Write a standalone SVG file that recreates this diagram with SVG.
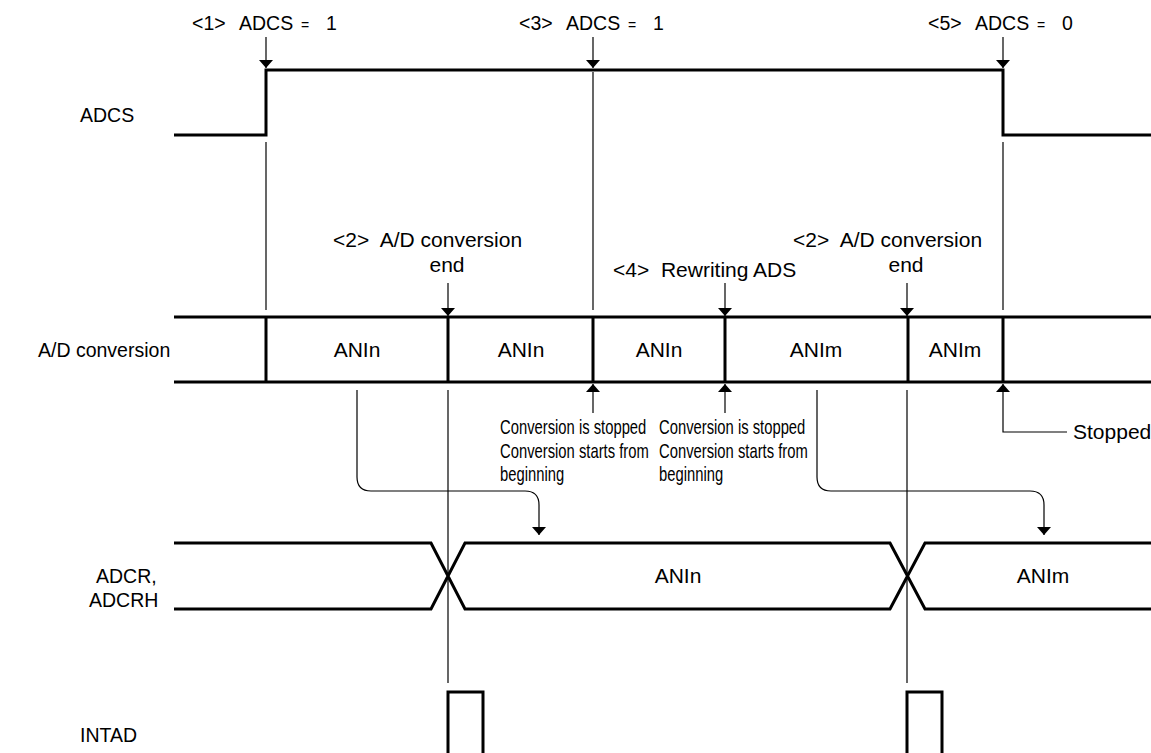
<svg xmlns="http://www.w3.org/2000/svg" width="1151" height="753" viewBox="0 0 1151 753">
<style>
text{font-family:"Liberation Sans",Arial,sans-serif;font-size:19.5px;fill:#000}
.c{text-anchor:middle}
.b{font-size:21px}
.eq{font-size:14px}
.nar{font-size:20px}
.sig{fill:none;stroke:#000;stroke-width:3}
.thin{fill:none;stroke:#000;stroke-width:1.2}
</style>
<defs>
<marker id="ah" viewBox="0 0 8 14" refX="8" refY="7" markerWidth="8" markerHeight="14" markerUnits="userSpaceOnUse" orient="auto">
<path d="M0,0 L8,7 L0,14 Z" fill="#000"/>
</marker>
</defs>
<rect width="1151" height="753" fill="#fff"/>

<g id="label-adcs"><text x="80" y="122">ADCS</text></g>
<g id="label-ad"><text x="38" y="357">A/D conversion</text></g>
<g id="label-adcr"><text x="96" y="583">ADCR,</text><text x="89" y="607">ADCRH</text></g>
<g id="label-intad"><text x="80" y="742">INTAD</text></g>

<g id="sig-adcs"><path class="sig" d="M174,135 H266 V70 H1003 V135 H1151"/></g>

<g id="sig-ad">
<path class="sig" d="M174,317 H1151 M174,382 H1151 M266,317 V382 M448,317 V382 M593,317 V382 M725,317 V382 M908,317 V382 M1003,317 V382"/>
<text class="c b" x="357" y="357">ANIn</text>
<text class="c b" x="521" y="357">ANIn</text>
<text class="c b" x="659" y="357">ANIn</text>
<text class="c b" x="816" y="357">ANIm</text>
<text class="c b" x="955" y="357">ANIm</text>
</g>

<g id="sig-adcr">
<path class="sig" d="M174,543 H431 L465,609 H890 L925,543 H1151 M174,609 H431 L465,543 H890 L925,609 H1151"/>
<text class="c b" x="678" y="583">ANIn</text>
<text class="c b" x="1043" y="583">ANIm</text>
</g>

<g id="sig-intad"><path class="sig" stroke-width="2.5" d="M448,753 V692 H483 V753 M907,753 V692 H942 V753"/></g>

<g id="ann-1"><text x="192" y="30">&lt;1&gt;</text><text x="239" y="30">ADCS</text><text x="301" y="30" class="eq">=</text><text x="326" y="30">1</text></g>
<g id="ann-3"><text x="519" y="30">&lt;3&gt;</text><text x="566" y="30">ADCS</text><text x="628" y="30" class="eq">=</text><text x="653" y="30">1</text></g>
<g id="ann-5"><text x="928" y="30">&lt;5&gt;</text><text x="975" y="30">ADCS</text><text x="1037" y="30" class="eq">=</text><text x="1062" y="30">0</text></g>

<g id="ann-2a"><text class="b" x="333" y="247" xml:space="preserve">&lt;2&gt;  A/D conversion</text><text class="c b" x="447" y="272">end</text></g>
<g id="ann-4"><text class="b" x="613" y="277" xml:space="preserve">&lt;4&gt;  Rewriting ADS</text></g>
<g id="ann-2b"><text class="b" x="793" y="247" xml:space="preserve">&lt;2&gt;  A/D conversion</text><text class="c b" x="906" y="272">end</text></g>

<g id="note-stop1" transform="translate(500,0) scale(0.74,1)">
<text class="nar" x="0" y="434">Conversion is stopped</text>
<text class="nar" x="0" y="458">Conversion starts from</text>
<text class="nar" x="0" y="481">beginning</text>
</g>
<g id="note-stop2" transform="translate(659,0) scale(0.74,1)">
<text class="nar" x="0" y="434">Conversion is stopped</text>
<text class="nar" x="0" y="458">Conversion starts from</text>
<text class="nar" x="0" y="481">beginning</text>
</g>
<g id="note-stopped"><text class="b" x="1073" y="439">Stopped</text></g>

<g id="connectors">
<path class="thin" marker-end="url(#ah)" d="M266,37 V68"/>
<path class="thin" marker-end="url(#ah)" d="M593,37 V68"/>
<path class="thin" marker-end="url(#ah)" d="M1003,37 V68"/>
<path class="thin" d="M266,142 V310"/>
<path class="thin" d="M593,72 V310"/>
<path class="thin" d="M1003,142 V310"/>
<path class="thin" marker-end="url(#ah)" d="M448,283 V316"/>
<path class="thin" marker-end="url(#ah)" d="M725,283 V316"/>
<path class="thin" marker-end="url(#ah)" d="M907,283 V316"/>
<path class="thin" marker-end="url(#ah)" d="M593,413 V384"/>
<path class="thin" marker-end="url(#ah)" d="M725,413 V384"/>
<path class="thin" marker-end="url(#ah)" d="M1067,432 H1003 V384"/>
<path class="thin" d="M448,390 V683"/>
<path class="thin" d="M907,390 V683"/>
<path class="thin" marker-end="url(#ah)" d="M357,390 V477 Q357,491 371,491 H525 Q539,491 539,505 V535"/>
<path class="thin" marker-end="url(#ah)" d="M817,390 V477 Q817,491 831,491 H1030 Q1044,491 1044,505 V535"/>
</g>
</svg>
